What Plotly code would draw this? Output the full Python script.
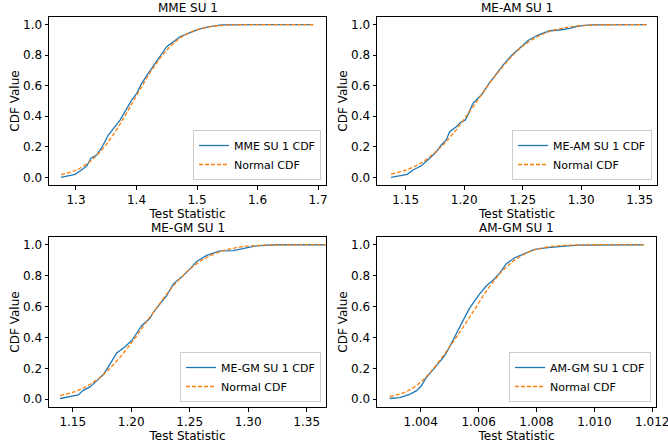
import plotly.graph_objects as go

# ---------------- data ----------------
titles = ["MME SU 1", "ME-AM SU 1", "ME-GM SU 1", "AM-GM SU 1"]
series_names = ["MME SU 1 CDF", "ME-AM SU 1 CDF", "ME-GM SU 1 CDF", "AM-GM SU 1 CDF"]
normal_name = "Normal CDF"

# MME SU 1
mme_x = [1.2752, 1.2873, 1.2984, 1.3066, 1.3177, 1.3248, 1.3342, 1.3425, 1.3534, 1.3645,
         1.3728, 1.381, 1.392, 1.4004, 1.4086, 1.4195, 1.4306, 1.4405, 1.4499, 1.4609,
         1.4719, 1.4856, 1.5022, 1.5187, 1.5408, 1.60, 1.692]
mme_y = [0.0, 0.013, 0.020, 0.042, 0.074, 0.125, 0.146, 0.194, 0.277, 0.332,
         0.375, 0.430, 0.506, 0.550, 0.616, 0.681, 0.747, 0.806, 0.856, 0.888,
         0.921, 0.943, 0.969, 0.986, 0.998, 1.0, 1.0]
mme_nx = [1.2752, 1.29, 1.30, 1.31, 1.32, 1.33, 1.34, 1.35, 1.36, 1.37, 1.38, 1.39, 1.40,
          1.41, 1.42, 1.43, 1.44, 1.45, 1.46, 1.47, 1.48, 1.50, 1.52, 1.55, 1.60, 1.692]
mme_ny = [0.018, 0.033, 0.048, 0.068, 0.094, 0.127, 0.168, 0.215, 0.270, 0.330, 0.397,
          0.465, 0.535, 0.603, 0.670, 0.730, 0.785, 0.832, 0.873, 0.906, 0.932, 0.967,
          0.986, 0.997, 1.0, 1.0]

# ME-AM SU 1
meam_x = [1.1375, 1.1435, 1.1514, 1.1563, 1.1634, 1.1705, 1.1762, 1.1805, 1.1847, 1.1876,
          1.1933, 1.197, 1.201, 1.2038, 1.2075, 1.2118, 1.2152, 1.2204, 1.226, 1.2332,
          1.2403, 1.2475, 1.2546, 1.2631, 1.2731, 1.2817, 1.2902, 1.2973, 1.3087, 1.356]
meam_y = [0.0, 0.008, 0.020, 0.048, 0.076, 0.125, 0.168, 0.212, 0.245, 0.299,
          0.332, 0.360, 0.375, 0.419, 0.485, 0.518, 0.544, 0.605, 0.660, 0.735,
          0.796, 0.846, 0.896, 0.932, 0.960, 0.965, 0.976, 0.991, 0.998, 1.0]
meam_nx = [1.1375, 1.15, 1.16, 1.17, 1.18, 1.19, 1.20, 1.21, 1.22, 1.23, 1.24, 1.25, 1.26,
           1.27, 1.28, 1.29, 1.30, 1.31, 1.32, 1.356]
meam_ny = [0.022, 0.047, 0.081, 0.131, 0.198, 0.281, 0.382, 0.488, 0.597, 0.698, 0.786,
           0.858, 0.910, 0.947, 0.971, 0.985, 0.993, 0.997, 0.999, 1.0]

# ME-GM SU 1
megm_x = [1.1391, 1.1462, 1.1547, 1.159, 1.1647, 1.1705, 1.1761, 1.1804, 1.1847, 1.1876,
          1.1947, 1.2004, 1.2032, 1.2089, 1.216, 1.2189, 1.2246, 1.2303, 1.236, 1.2445,
          1.2502, 1.256, 1.2645, 1.2759, 1.2873, 1.2958, 1.3072, 1.3243, 1.372]
megm_y = [0.005, 0.015, 0.028, 0.058, 0.080, 0.119, 0.160, 0.210, 0.260, 0.300,
          0.340, 0.380, 0.411, 0.476, 0.524, 0.563, 0.617, 0.671, 0.747, 0.801,
          0.844, 0.892, 0.931, 0.960, 0.962, 0.975, 0.993, 1.0, 1.0]
megm_nx = [1.1391, 1.15, 1.16, 1.17, 1.18, 1.19, 1.20, 1.21, 1.22, 1.23, 1.24, 1.25, 1.26,
           1.27, 1.28, 1.29, 1.30, 1.31, 1.32, 1.34, 1.372]
megm_ny = [0.023, 0.045, 0.076, 0.123, 0.187, 0.268, 0.363, 0.468, 0.575, 0.677, 0.767,
           0.841, 0.898, 0.938, 0.965, 0.981, 0.991, 0.996, 0.998, 1.0, 1.0]

# AM-GM SU 1
amgm_x = [1.002929, 1.003274, 1.003619, 1.003847, 1.00402, 1.004193, 1.004424, 1.004597,
          1.004828, 1.005, 1.005173, 1.005356, 1.005519, 1.005691, 1.005874, 1.00599,
          1.006278, 1.006497, 1.006729, 1.006958, 1.007248, 1.007593, 1.007939, 1.008395,
          1.008972, 1.00943, 1.0117]
amgm_y = [0.005, 0.011, 0.032, 0.054, 0.086, 0.141, 0.190, 0.232, 0.282, 0.340, 0.400,
          0.470, 0.530, 0.590, 0.645, 0.671, 0.736, 0.770, 0.816, 0.877, 0.916, 0.942,
          0.970, 0.981, 0.989, 0.998, 1.0]
amgm_nx = [1.002929, 1.0032, 1.0035, 1.0038, 1.0041, 1.0044, 1.0047, 1.0050, 1.0053, 1.0056,
           1.0059, 1.0062, 1.0065, 1.0068, 1.0071, 1.0074, 1.0077, 1.0080, 1.0084, 1.0090,
           1.0095, 1.0117]
amgm_ny = [0.018, 0.030, 0.050, 0.082, 0.128, 0.190, 0.262, 0.340, 0.420, 0.505, 0.592,
           0.681, 0.758, 0.826, 0.879, 0.920, 0.950, 0.970, 0.986, 0.996, 0.999, 1.0]

x_ticks = [[1.3, 1.4, 1.5, 1.6, 1.7],
           [1.15, 1.20, 1.25, 1.30, 1.35],
           [1.15, 1.20, 1.25, 1.30, 1.35],
           [1.004, 1.006, 1.008, 1.010, 1.012]]
x_ticklabels = [["1.3", "1.4", "1.5", "1.6", "1.7"],
                ["1.15", "1.20", "1.25", "1.30", "1.35"],
                ["1.15", "1.20", "1.25", "1.30", "1.35"],
                ["1.004", "1.006", "1.008", "1.010", "1.012"]]
y_ticks = [0.0, 0.2, 0.4, 0.6, 0.8, 1.0]
y_ticklabels = ["0.0", "0.2", "0.4", "0.6", "0.8", "1.0"]
x_label = "Test Statistic"
y_label = "CDF Value"

# ---------------- layout ----------------
W, H = 668, 443
FONT = "DejaVu Sans"
BLUE = "#1f77b4"
ORANGE = "#ff7f0e"

emp = [(mme_x, mme_y), (meam_x, meam_y), (megm_x, megm_y), (amgm_x, amgm_y)]
nrm = [(mme_nx, mme_ny), (meam_nx, meam_ny), (megm_nx, megm_ny), (amgm_nx, amgm_ny)]
x_ranges = [[1.2554, 1.7132], [1.1255, 1.3648], [1.1297, 1.3665], [1.00249, 1.01213]]

# pixel boxes: (left, right, top, bottom)
boxes = [(49, 326, 17, 185), (377, 657, 17, 185), (49, 326, 237, 407), (377, 656, 237, 407)]

fig = go.Figure()
layout = dict(width=W, height=H,
              margin=dict(l=0, r=0, t=0, b=0, pad=0, autoexpand=False),
              paper_bgcolor="white", plot_bgcolor="white",
              font=dict(family=FONT, size=12, color="black"),
              showlegend=True, annotations=[])

for i in range(4):
    k = "" if i == 0 else str(i + 1)
    leg = "legend" + k
    fig.add_trace(go.Scatter(x=emp[i][0], y=emp[i][1], mode="lines", name=series_names[i],
                             line=dict(color=BLUE, width=1.3),
                             xaxis="x" + k, yaxis="y" + k, legend=leg))
    fig.add_trace(go.Scatter(x=nrm[i][0], y=nrm[i][1], mode="lines", name=normal_name,
                             line=dict(color=ORANGE, width=1.3, dash="4px,2px"),
                             line_shape="spline",
                             xaxis="x" + k, yaxis="y" + k, legend=leg))
    l, r, t, b = boxes[i]
    axcommon = dict(showline=True, mirror=True, linecolor="black", linewidth=1,
                    ticks="outside", ticklen=3.5, tickwidth=1, tickcolor="black",
                    showgrid=False, zeroline=False, automargin=False,
                    ticklabeloverflow="allow",
                    tickfont=dict(size=12, family=FONT))
    layout["xaxis" + k] = dict(axcommon, domain=[l / W, r / W], range=x_ranges[i],
                               tickvals=x_ticks[i], ticktext=x_ticklabels[i],
                               anchor="y" + k,
                               title=dict(text=x_label, standoff=0, font=dict(size=12)))
    layout["yaxis" + k] = dict(axcommon, domain=[1 - b / H, 1 - t / H], range=[-0.05, 1.05],
                               tickvals=y_ticks, ticktext=y_ticklabels,
                               anchor="x" + k,
                               title=dict(text=y_label, standoff=0, font=dict(size=12)))
    layout[leg] = dict(x=(r - 5) / W, y=1 - (b - 5) / H, xanchor="right", yanchor="bottom",
                       xref="paper", yref="paper",
                       bgcolor="rgba(255,255,255,0.8)", bordercolor="#cccccc", borderwidth=1,
                       font=dict(size=11, family=FONT), itemwidth=30,
                       tracegroupgap=0)
    layout["annotations"].append(dict(text=titles[i], xref="paper", yref="paper",
                                      x=(l + r) / 2 / W, y=1 - t / H, xanchor="center",
                                      yanchor="bottom", yshift=0, showarrow=False,
                                      font=dict(size=12, family=FONT)))

fig.update_layout(**layout)
fig.write_html("out.html", config={"displayModeBar": False},
               post_script="document.body.style.margin='0';document.body.style.padding='0';")
